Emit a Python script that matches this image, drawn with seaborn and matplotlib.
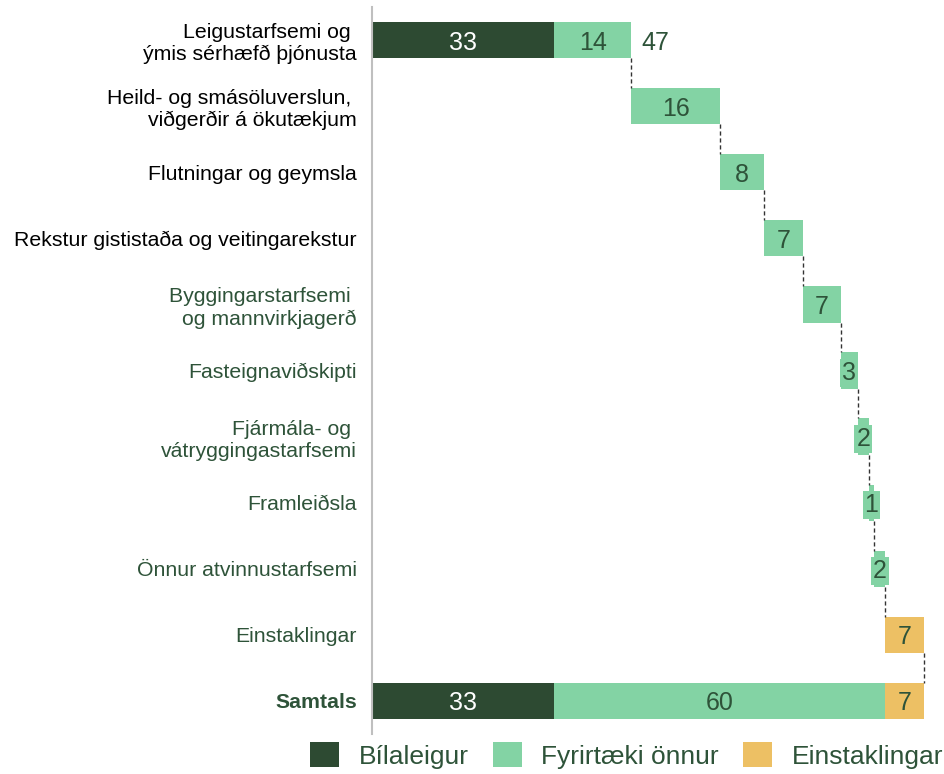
import matplotlib
matplotlib.use("Agg")
import matplotlib.pyplot as plt
import seaborn as sns
import numpy as np
import pandas as pd
from matplotlib.patches import Patch

categories = [
    "Leigustarfsemi og \nýmis sérhæfð þjónusta",
    "Heild- og smásöluverslun, \nviðgerðir á ökutækjum",
    "Flutningar og geymsla",
    "Rekstur gististaða og veitingarekstur",
    "Byggingarstarfsemi \nog mannvirkjagerð",
    "Fasteignaviðskipti",
    "Fjármála- og \nvátryggingastarfsemi",
    "Framleiðsla",
    "Önnur atvinnustarfsemi",
    "Einstaklingar",
    "Samtals",
]
bilaleigur = [33, 0, 0, 0, 0, 0, 0, 0, 0, 0, 33]
fyrirtaeki = [14, 16, 8, 7, 7, 3, 2, 1, 2, 0, 60]
einstaklingar = [0, 0, 0, 0, 0, 0, 0, 0, 0, 7, 7]
series_names = ["Bílaleigur", "Fyrirtæki önnur", "Einstaklingar"]

C_DARK = "#2D4A32"
C_LIGHT = "#83D3A4"
C_GOLD = "#EDC064"
TXT_GREEN = "#2E5339"

b = np.array(bilaleigur, float)
f = np.array(fyrirtaeki, float)
e = np.array(einstaklingar, float)
row_tot = b + f + e
start = np.concatenate([[0], np.cumsum(row_tot[:-2]), [0]])

df = pd.DataFrame({
    "cat": categories,
    "start": start,
    "dark_end": start + b,
    "light_end": start + b + f,
    "gold_end": start + b + f + e,
})

sns.set_theme(style="white")
plt.rcParams["font.family"] = ["Liberation Sans", "DejaVu Sans"]

fig = plt.figure(figsize=(9.45, 7.74), dpi=100)
ax = fig.add_axes([372 / 945, 40 / 774, 552 / 945, 727 / 774])

W = 0.55
for col, colr in [("gold_end", C_GOLD), ("light_end", C_LIGHT),
                  ("dark_end", C_DARK), ("start", "white")]:
    sns.barplot(data=df, x=col, y="cat", order=categories, color=colr,
                width=W, linewidth=0, saturation=1, ax=ax, orient="h")

ax.set_xlim(0, 100)
ax.set_ylim(10.5, -0.5)
ax.set_xlabel("")
ax.set_ylabel("")
ax.set_xticks([])

# value labels
num_fs = 18
for i in range(len(categories)):
    s = start[i]
    for val, colr, tcol in [(b[i], C_DARK, "white"), (f[i], C_LIGHT, TXT_GREEN),
                            (e[i], C_GOLD, TXT_GREEN)]:
        if val > 0:
            ax.text(s + val / 2, i, f"{int(val)}", ha="center", va="center_baseline",
                    fontsize=num_fs, color=tcol, zorder=5,
                    bbox=dict(boxstyle="square,pad=0.08", fc=colr, ec="none"))
            s += val
# total label for first row
ax.text(row_tot[0] + 1.8, 0, f"{int(row_tot[0])}", ha="left", va="center_baseline",
        fontsize=num_fs, color=TXT_GREEN)

# connectors
cum = np.cumsum(row_tot[:-1])
for i in range(len(categories) - 1):
    ax.plot([cum[i], cum[i]], [i + W / 2, i + 1 - W / 2], ls=(0, (3, 2)),
            color="#333333", lw=1, zorder=3, clip_on=False)

# y tick labels
ax.tick_params(axis="y", length=0, pad=11)
for i, lab in enumerate(ax.get_yticklabels()):
    lab.set_fontsize(15.3)
    if i < 4:
        lab.set_color("black")
    else:
        lab.set_color(TXT_GREEN)
    if i == len(categories) - 1:
        lab.set_fontweight("bold")

for sp in ["top", "right", "bottom"]:
    ax.spines[sp].set_visible(False)
ax.spines["left"].set_color("#BFBFBF")
ax.spines["left"].set_linewidth(1.5)

handles = [Patch(facecolor=c, edgecolor="none") for c in [C_DARK, C_LIGHT, C_GOLD]]
leg = fig.legend(handles, series_names, loc="center", bbox_to_anchor=(0.663, 0.024),
                 ncol=3, frameon=False, fontsize=19, handlelength=1.1,
                 handleheight=1.1, handletextpad=0.75, columnspacing=0.9)
for t in leg.get_texts():
    t.set_color(TXT_GREEN)

fig.savefig("out.png", dpi=100)
